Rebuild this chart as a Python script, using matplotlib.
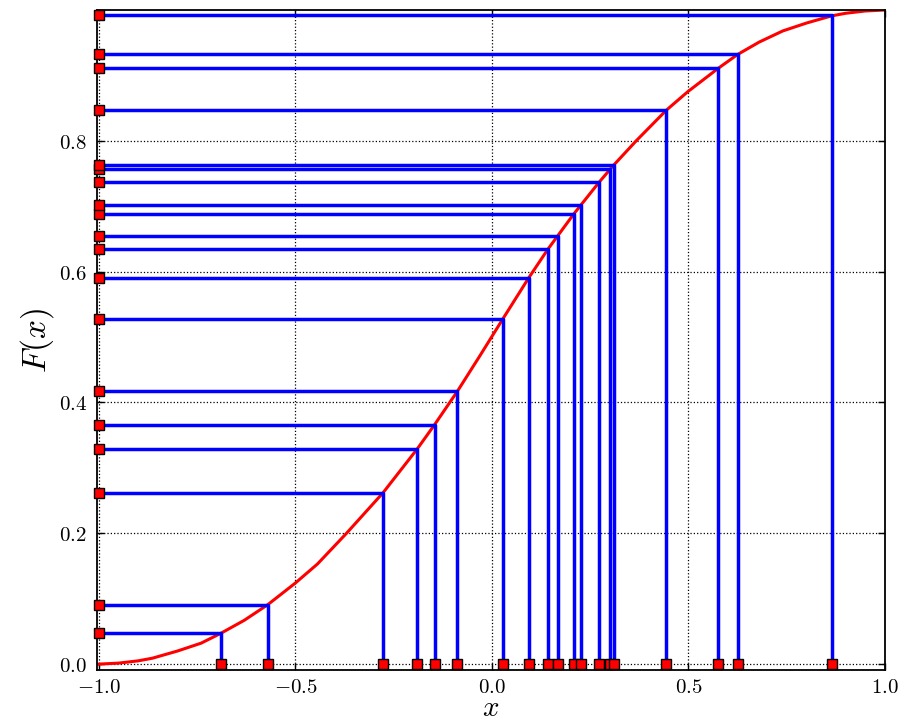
import numpy as np
import matplotlib
matplotlib.use("Agg")
import matplotlib.pyplot as plt
from matplotlib.ticker import FuncFormatter

plt.rcParams['mathtext.fontset'] = 'cm'

# выборка: x_i и значения F(x_i)
sample_x = [-0.690, -0.570, -0.277, -0.190, -0.146, -0.088, 0.028, 0.093, 0.142, 0.168,
            0.208, 0.227, 0.273, 0.301, 0.310, 0.444, 0.576, 0.625, 0.864]
sample_F = [0.047, 0.091, 0.262, 0.329, 0.366, 0.417, 0.528, 0.590, 0.634, 0.654,
            0.688, 0.702, 0.737, 0.757, 0.763, 0.847, 0.911, 0.932, 0.992]

# точки кривой F(x)
curve_x = [-1.0, -0.95, -0.9, -0.864, -0.8, -0.74, -0.69, -0.63, -0.57, -0.5, -0.444,
           -0.37, -0.31, -0.277, -0.19, -0.146, -0.088, -0.03, 0.028, 0.093, 0.142,
           0.208, 0.273, 0.31, 0.367, 0.444, 0.498, 0.576, 0.625, 0.68, 0.74, 0.8,
           0.864, 0.9, 0.95, 1.0]
curve_F = [0.0, 0.0015, 0.005, 0.009, 0.020, 0.032, 0.047, 0.067, 0.091, 0.124, 0.153,
           0.200, 0.240, 0.262, 0.329, 0.366, 0.417, 0.472, 0.528, 0.590, 0.634,
           0.688, 0.737, 0.763, 0.800, 0.847, 0.875, 0.911, 0.932, 0.951, 0.968, 0.980,
           0.991, 0.995, 0.9985, 1.0]

x_ticks = [-1.0, -0.5, 0.0, 0.5, 1.0]
y_ticks = [0.0, 0.2, 0.4, 0.6, 0.8]

fig = plt.figure(figsize=(9.14, 7.24), dpi=100)
ax = fig.add_axes([0.1056, 0.0746, 0.8627, 0.9116])

# кривая распределения
ax.plot(curve_x, curve_F, color='r', lw=2.2, zorder=2)

# линии от оси y к кривой и вниз к оси x
for xi, fi in zip(sample_x, sample_F):
    ax.plot([-1.0, xi, xi], [fi, fi, 0.0], color='b', lw=2.5, zorder=3)

# квадратные маркеры на осях
ax.plot(sample_x, np.zeros(len(sample_x)), 's', color='r', ms=7, mec='k', mew=1,
        clip_on=False, zorder=5)
ax.plot(-np.ones(len(sample_F)), sample_F, 's', color='r', ms=7, mec='k', mew=1,
        clip_on=False, zorder=5)

ax.set_xlim(-1.006, 1.0)
ax.set_ylim(-0.009, 1.0)
ax.set_xticks(x_ticks)
ax.set_yticks(y_ticks)
fmt = FuncFormatter(lambda v, p: r'$%.1f$' % v)
ax.xaxis.set_major_formatter(fmt)
ax.yaxis.set_major_formatter(fmt)
ax.tick_params(direction='in', length=5, width=1, top=True, right=True,
               labelsize=15, pad=7)
ax.tick_params(axis='x', pad=5)

ax.grid(True, color='k', linestyle=':', linewidth=0.9)
for s in ax.spines.values():
    s.set_linewidth(1.3)

ax.set_xlabel(r'$x$', fontsize=21, labelpad=-2)
ax.set_ylabel(r'$F(x)$', fontsize=24, labelpad=2)

fig.savefig('out.png', dpi=100)
